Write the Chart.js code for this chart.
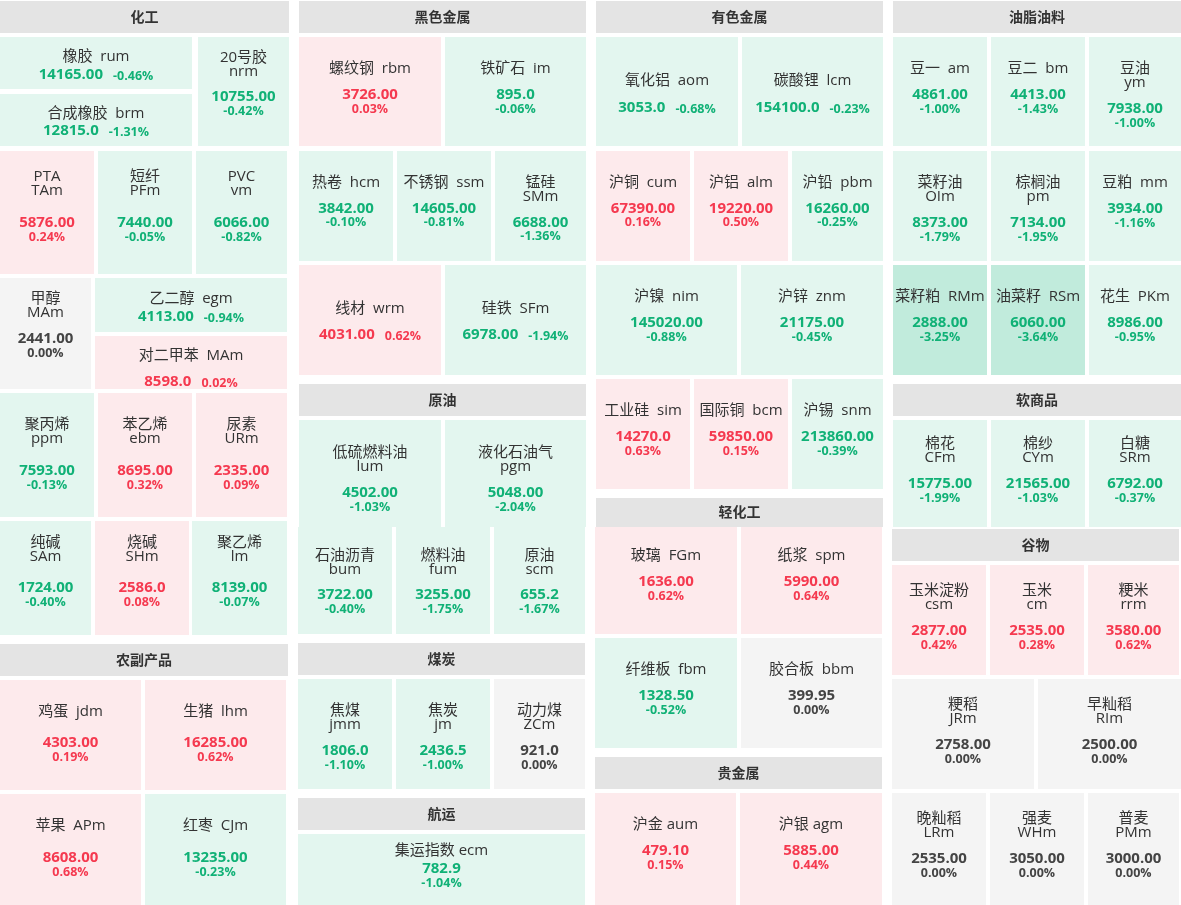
<!DOCTYPE html>
<html>
<head>
<meta charset="utf-8">
<script src="https://cdn.jsdelivr.net/npm/chart.js@4.4.1/dist/chart.umd.min.js"></script>
<style>
html,body{margin:0;padding:0;background:#fff;}
#wrap{width:1181px;height:905px;}
canvas{display:block;}
</style>
</head>
<body>
<div id="wrap"><canvas id="c" width="1181" height="905"></canvas></div>
<script>
// ---------- data ----------
const groupNames = ['化工','黑色金属','有色金属','油脂油料','农副产品','原油','煤炭','航运','轻化工','贵金属','软商品','谷物'];

const names = ['橡胶','合成橡胶','20号胶','PTA','短纤','PVC','甲醇','乙二醇','对二甲苯','聚丙烯','苯乙烯','尿素','纯碱','烧碱','聚乙烯','鸡蛋','生猪','苹果','红枣',
'螺纹钢','铁矿石','热卷','不锈钢','锰硅','线材','硅铁','低硫燃料油','液化石油气','石油沥青','燃料油','原油','焦煤','焦炭','动力煤','集运指数',
'氧化铝','碳酸锂','沪铜','沪铝','沪铅','沪镍','沪锌','工业硅','国际铜','沪锡','玻璃','纸浆','纤维板','胶合板','沪金','沪银',
'豆一','豆二','豆油','菜籽油','棕榈油','豆粕','菜籽粕','油菜籽','花生','棉花','棉纱','白糖','玉米淀粉','玉米','粳米','粳稻','早籼稻','晚籼稻','强麦','普麦'];

const codes = ['rum','brm','nrm','TAm','PFm','vm','MAm','egm','MAm','ppm','ebm','URm','SAm','SHm','lm','jdm','lhm','APm','CJm',
'rbm','im','hcm','ssm','SMm','wrm','SFm','lum','pgm','bum','fum','scm','jmm','jm','ZCm','ecm',
'aom','lcm','cum','alm','pbm','nim','znm','sim','bcm','snm','FGm','spm','fbm','bbm','aum','agm',
'am','bm','ym','OIm','pm','mm','RMm','RSm','PKm','CFm','CYm','SRm','csm','cm','rrm','JRm','RIm','LRm','WHm','PMm'];

const prices = [14165.00,12815.0,10755.00,5876.00,7440.00,6066.00,2441.00,4113.00,8598.0,7593.00,8695.00,2335.00,1724.00,2586.0,8139.00,4303.00,16285.00,8608.00,13235.00,
3726.00,895.0,3842.00,14605.00,6688.00,4031.00,6978.00,4502.00,5048.00,3722.00,3255.00,655.2,1806.0,2436.5,921.0,782.9,
3053.0,154100.0,67390.00,19220.00,16260.00,145020.00,21175.00,14270.0,59850.00,213860.00,1636.00,5990.00,1328.50,399.95,479.10,5885.00,
4861.00,4413.00,7938.00,8373.00,7134.00,3934.00,2888.00,6060.00,8986.00,15775.00,21565.00,6792.00,2877.00,2535.00,3580.00,2758.00,2500.00,2535.00,3050.00,3000.00];

const decimals = [2,1,2,2,2,2,2,2,1,2,2,2,2,1,2,2,2,2,2,
2,1,2,2,2,2,2,2,2,2,2,1,1,1,1,1,
1,1,2,2,2,2,2,1,2,2,2,2,2,2,2,2,
2,2,2,2,2,2,2,2,2,2,2,2,2,2,2,2,2,2,2,2];

const changes = [-0.46,-1.31,-0.42,0.24,-0.05,-0.82,0.00,-0.94,0.02,-0.13,0.32,0.09,-0.40,0.08,-0.07,0.19,0.62,0.68,-0.23,
0.03,-0.06,-0.10,-0.81,-1.36,0.62,-1.94,-1.03,-2.04,-0.40,-1.75,-1.67,-1.10,-1.00,0.00,-1.04,
-0.68,-0.23,0.16,0.50,-0.25,-0.88,-0.45,0.63,0.15,-0.39,0.62,0.64,-0.52,0.00,0.15,0.44,
-1.00,-1.43,-1.00,-1.79,-1.95,-1.16,-3.25,-3.64,-0.95,-1.99,-1.03,-0.37,0.42,0.28,0.62,0.00,0.00,0.00,0.00,0.00];

// ---------- layout (in layout units of the x/y scales) ----------
function row(xs, y0, y1, modes, ty, g){
  return xs.map((xr,i)=>({x0:xr[0],x1:xr[1],y0,y1,mode:modes[i],ty,g}));
}
const C1_3=[[0,94],[98,192],[196,287]], C1_2=[[0,141],[145,286]];
const C2_3=[[299,393],[397,491],[495,586]], C2_3b=[[298,392],[396,490],[494,585]], C2_2=[[299,441],[445,586]];
const C3_3=[[596,690],[694,788],[792,883]], C3_2=[[596,738],[742,883]];
const C4_3=[[893,987],[991,1085],[1089,1181]], C4_3b=[[892,986],[990,1084],[1088,1179]];

const tiles = [
  ...row([[0,192]],37,89,'i',19,18),
  ...row([[0,192]],94,146,'i',19,17),
  ...row([[198,289]],37,146,'t',20,25),
  ...row(C1_3,151,274,'ttt',25,32),
  ...row([[0,91]],278,389,'t',20,26),
  ...row([[95,287]],278,332,'i',20,18),
  ...row([[95,287]],336,389,'i',19,26),
  ...row(C1_3,393,517,'ttt',31,32),
  ...row([[0,91],[95,189],[192,287]],521,635,'ttt',21,31),
  ...row(C1_2,680,790,'oo',31,31),
  ...row(C1_2,794,905,'oo',31,32),
  ...row(C2_2,37,146,'oo',31,26),
  ...row(C2_3,151,261,'oot',31,25.5),
  ...row(C2_2,265,375,'ii',43,26),
  ...row(C2_2,420,527,'tt',32,26),
  ...row(C2_3b,527,634,'ttt',28,25),
  ...row(C2_3b,679,789,'ttt',31,26),
  ...row([[298,585]],834,905,'s',16,18),
  ...row(C3_2,37,146,'ii',43,27),
  ...row(C3_3,151,261,'ooo',31,25.5),
  ...row([[596,737],[741,883]],265,375,'oo',31,26),
  ...row(C3_3,379,489,'ooo',31,26),
  ...row([[595,737],[741,882]],527,634,'oo',28,26),
  ...row([[595,737],[741,882]],638,748,'oo',31,26),
  ...row([[595,736],[740,882]],793,905,'ss',31,26),
  ...row(C4_3,37,146,'oot',31,26),
  ...row(C4_3,151,261,'tto',31,26),
  ...row(C4_3,265,375,'ooo',31,26),
  ...row(C4_3,420,527,'ttt',23,26),
  ...row(C4_3b,565,675,'ttt',25,26),
  ...row([[892,1034],[1038,1181]],679,789,'tt',25,26),
  ...row(C4_3b,793,905,'ttt',25,26)
];

const headers = [
  [0,289,1,33],[299,586,1,33],[596,883,1,33],[893,1181,1,33],
  [0,288,644,676],[299,586,384,416],[298,585,643,675],[298,585,798,830],
  [596,883,498,527],[595,882,757,789],[893,1181,384,416],[892,1179,529,561]
];

// ---------- styles ----------
const FONT = '"Open Sans","Noto Sans CJK SC",sans-serif';
const TEXT_SHIFT = 1;
function bgColor(ch){ return ch>0 ? '#fdeaec' : ch<0 ? (ch<=-3 ? '#c1ebdc' : '#e3f6ef') : '#f4f4f4'; }
function fgColor(ch){ return ch>0 ? '#f5394f' : ch<0 ? '#10b176' : '#444444'; }

const tilePlugin = {
  id:'tiles',
  beforeDatasetsDraw(chart){
    const {ctx, scales:{x, y}} = chart;
    ctx.save();
    ctx.textAlign='center';
    ctx.textBaseline='middle';
    headers.forEach((h,i)=>{
      const px0=x.getPixelForValue(h[0]), px1=x.getPixelForValue(h[1]);
      const py0=y.getPixelForValue(h[2]), py1=y.getPixelForValue(h[3]);
      ctx.fillStyle='#e4e4e4';
      ctx.fillRect(px0,py0,px1-px0,py1-py0);
      ctx.fillStyle='#333333';
      ctx.font='bold 14px '+FONT;
      ctx.fillText(groupNames[i],(px0+px1)/2,(py0+py1)/2+1);
    });
    tiles.forEach((t,i)=>{
      const ch=changes[i];
      const px0=x.getPixelForValue(t.x0), px1=x.getPixelForValue(t.x1);
      const py0=y.getPixelForValue(t.y0), py1=y.getPixelForValue(t.y1);
      ctx.fillStyle=bgColor(ch);
      ctx.fillRect(px0,py0,px1-px0,py1-py0);
      const cx=(px0+px1)/2;
      const Y=v=>y.getPixelForValue(t.y0+v+TEXT_SHIFT);
      const val=prices[i].toFixed(decimals[i]);
      const pct=ch.toFixed(2)+'%';
      ctx.fillStyle='#333333';
      ctx.font='15px '+FONT;
      let vy;
      if(t.mode==='t'){
        ctx.fillText(names[i],cx,Y(t.ty));
        ctx.fillText(codes[i],cx,Y(t.ty+14));
        vy=t.ty+14+t.g;
      } else {
        const sep = t.mode==='s' ? ' ' : '  ';
        ctx.fillText(names[i]+sep+codes[i],cx,Y(t.ty));
        vy=t.ty+t.g;
      }
      ctx.fillStyle=fgColor(ch);
      if(t.mode==='i'){
        ctx.font='bold 15px '+FONT;
        const w1=ctx.measureText(val).width;
        ctx.font='bold 12.5px '+FONT;
        const w2=ctx.measureText(pct).width;
        const gap=10, tot=w1+gap+w2, left=cx-tot/2;
        ctx.textAlign='left';
        ctx.font='bold 15px '+FONT;
        ctx.fillText(val,left,Y(vy));
        ctx.font='bold 12.5px '+FONT;
        ctx.fillText(pct,left+w1+gap,Y(vy)+1);
        ctx.textAlign='center';
      } else {
        ctx.font='bold 15px '+FONT;
        ctx.fillText(val,cx,Y(vy));
        ctx.font='bold 12.5px '+FONT;
        ctx.fillText(pct,cx,Y(vy+14));
      }
    });
    ctx.restore();
  }
};

new Chart(document.getElementById('c'),{
  type:'scatter',
  data:{datasets:[{
    data: tiles.map((t,i)=>({x:(t.x0+t.x1)/2, y:(t.y0+t.y1)/2, v:prices[i]})),
    pointRadius:0, pointHoverRadius:0
  }]},
  options:{
    responsive:false, animation:false, devicePixelRatio:1,
    layout:{padding:0},
    plugins:{legend:{display:false},tooltip:{enabled:false}},
    scales:{
      x:{type:'linear',min:0,max:1181,display:false},
      y:{type:'linear',min:0,max:905,reverse:true,display:false}
    }
  },
  plugins:[tilePlugin]
});
</script>
</body>
</html>
